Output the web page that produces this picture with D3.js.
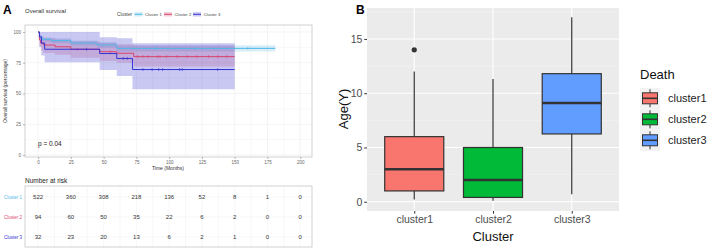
<!DOCTYPE html>
<html>
<head>
<meta charset="utf-8">
<script src="https://cdn.jsdelivr.net/npm/d3@7"></script>
<style>
  body { margin: 0; background: #fff; }
  svg { font-family: "Liberation Sans", Arial, sans-serif; }
</style>
</head>
<body>
<div id="chart"></div>
<script>
// ---- panel A data ----
var clusters = ["Cluster 1", "Cluster 2", "Cluster 3"];
var timeTicks = [0, 25, 50, 75, 100, 125, 150, 175, 200];
var survTicks = [0, 25, 50, 75, 100];

var km1Time  = [0, 1, 3, 10, 25, 45, 60, 181];
var km1Surv  = [100, 96, 94, 93, 91, 89.5, 86.7, 86.7];
var km1Upper = [100, 97.7, 95.8, 95, 93.2, 91.8, 89.3, 89.3];
var km1Lower = [100, 94.3, 92.2, 91, 88.8, 87.2, 84.1, 84.1];
var km1Cens  = [90, 120, 160];

var km2Time  = [0, 1, 2, 4, 13, 25, 47, 60, 73, 150];
var km2Surv  = [100, 93.5, 91, 89.4, 88, 86, 84, 82.7, 80, 80];
var km2Upper = [100, 98, 96.5, 95, 94, 92.5, 91, 90, 89, 89];
var km2Lower = [100, 88, 85, 83, 81.5, 79, 76.5, 75, 72, 72];
var km2Cens  = [30, 55, 76, 80, 84, 91, 93, 98, 106, 114, 121, 130, 137, 144];

var km3Time  = [0, 1, 2.5, 5, 47, 60, 72, 150];
var km3Surv  = [100, 96, 91, 86, 82.5, 78.5, 69.5, 69.5];
var km3Upper = [100, 100, 100, 100, 95.7, 94.9, 90.8, 90.8];
var km3Lower = [100, 88, 81, 75.4, 69.1, 64.2, 53.5, 53.5];
var km3Cens  = [37, 65, 68, 80, 87, 92, 95, 108, 110, 137];

var risk1 = [522, 360, 308, 218, 136, 52, 8, 1, 0];
var risk2 = [94, 60, 50, 35, 22, 6, 2, 0, 0];
var risk3 = [32, 23, 20, 13, 6, 2, 1, 0, 0];

// ---- panel B data ----
var boxCats = ["cluster1", "cluster2", "cluster3"];
var boxLow  = [0.2, 0.1, 0.7];
var boxQ1   = [1, 0.4, 6.25];
var boxMed  = [3, 2, 9.1];
var boxQ3   = [6, 5, 11.8];
var boxHigh = [12, 11.3, 17];
var outliers = [{cat: "cluster1", v: 14}];
var ageTicks = [0, 5, 10, 15];

var kmColors = ["#4FB8E6", "#D9446F", "#3232D2"];
var boxColors = ["#F8766D", "#00BA38", "#619CFF"];

var svg = d3.select("#chart").append("svg")
    .attr("width", 708).attr("height", 249);

// ================= PANEL A =================
var x = d3.scaleLinear().domain([-10, 209]).range([25, 312]);
var y = d3.scaleLinear().domain([-1.6, 105.7]).range([157, 25]);

svg.append("text").attr("x", 3).attr("y", 14)
    .attr("font-size", 12).attr("font-weight", "bold").text("A");
svg.append("text").attr("x", 25).attr("y", 13)
    .attr("font-size", 6).attr("fill", "#333").text("Overall survival");

// legend
var leg = svg.append("g").attr("font-size", 4.2).attr("fill", "#444");
leg.append("text").attr("x", 117).attr("y", 16).attr("font-size", 4.8).text("Cluster");
var legX = [134.5, 164, 193];
clusters.forEach(function (c, i) {
  leg.append("rect").attr("x", legX[i]).attr("y", 12).attr("width", 8).attr("height", 4.5)
      .attr("fill", kmColors[i]).attr("opacity", 0.25);
  leg.append("line").attr("x1", legX[i]).attr("x2", legX[i] + 8)
      .attr("y1", 14.3).attr("y2", 14.3).attr("stroke", kmColors[i]).attr("stroke-width", 1);
  leg.append("text").attr("x", legX[i] + 10.5).attr("y", 15.8).text(c);
});

// grid
var gA = svg.append("g");
var minorX = d3.range(12.5, 209, 25);
var minorY = [12.5, 37.5, 62.5, 87.5];
gA.selectAll(".gx").data(timeTicks.concat(minorX)).enter().append("line")
    .attr("x1", d => x(d)).attr("x2", d => x(d)).attr("y1", 25).attr("y2", 157)
    .attr("stroke", "#ECECEC").attr("stroke-width", d => d % 25 === 0 ? 0.6 : 0.35);
gA.selectAll(".gy").data(survTicks.concat(minorY)).enter().append("line")
    .attr("x1", 25).attr("x2", 312).attr("y1", d => y(d)).attr("y2", d => y(d))
    .attr("stroke", "#ECECEC").attr("stroke-width", d => d % 25 === 0 ? 0.6 : 0.35);

// bands + curves
var kms = [
  {t: km1Time, s: km1Surv, u: km1Upper, l: km1Lower, c: km1Cens},
  {t: km2Time, s: km2Surv, u: km2Upper, l: km2Lower, c: km2Cens},
  {t: km3Time, s: km3Surv, u: km3Upper, l: km3Lower, c: km3Cens}
];
var area = d3.area().curve(d3.curveStepAfter)
    .x(d => x(d.t)).y0(d => y(d.l)).y1(d => y(d.u));
var line = d3.line().curve(d3.curveStepAfter).x(d => x(d.t)).y(d => y(d.s));

kms.forEach(function (k, i) {
  var pts = k.t.map((t, j) => ({t: t, s: k.s[j], u: k.u[j], l: k.l[j]}));
  gA.append("path").datum(pts).attr("d", area)
      .attr("fill", kmColors[i]).attr("opacity", i === 2 ? 0.27 : 0.22);
});
kms.forEach(function (k, i) {
  var pts = k.t.map((t, j) => ({t: t, s: k.s[j]}));
  gA.append("path").datum(pts).attr("d", line)
      .attr("fill", "none").attr("stroke", kmColors[i]).attr("stroke-width", 1);
  var bis = d3.bisector(d => d).right;
  k.c.forEach(function (ct) {
    var sv = k.s[bis(k.t, ct) - 1];
    gA.append("line").attr("x1", x(ct)).attr("x2", x(ct))
        .attr("y1", y(sv) - 1.5).attr("y2", y(sv) + 1.5)
        .attr("stroke", kmColors[i]).attr("stroke-width", 0.6);
  });
});

// panel border
svg.append("rect").attr("x", 25).attr("y", 25).attr("width", 287).attr("height", 132)
    .attr("fill", "none").attr("stroke", "#BDBDBD").attr("stroke-width", 0.7);

// axes
var axY = svg.append("g").attr("transform", "translate(25,0)")
    .call(d3.axisLeft(y).tickValues(survTicks).tickSize(2).tickPadding(2));
var axX = svg.append("g").attr("transform", "translate(0,157)")
    .call(d3.axisBottom(x).tickValues(timeTicks).tickSize(2).tickPadding(2));
[axY, axX].forEach(function (a) {
  a.select(".domain").remove();
  a.selectAll("line").attr("stroke", "#777").attr("stroke-width", 0.5);
  a.selectAll("text").attr("font-size", 4.5).attr("fill", "#666");
});
svg.append("text").attr("x", 168).attr("y", 170).attr("text-anchor", "middle")
    .attr("font-size", 5).attr("fill", "#333").text("Time (Months)");
svg.append("text").attr("transform", "translate(7,91) rotate(-90)")
    .attr("text-anchor", "middle").attr("font-size", 5).attr("fill", "#333")
    .text("Overall survival (percentage)");
svg.append("text").attr("x", 38).attr("y", 146)
    .attr("font-size", 6.5).attr("fill", "#222").text("p = 0.04");

// risk table
svg.append("text").attr("x", 25).attr("y", 183)
    .attr("font-size", 6.5).attr("fill", "#222").text("Number at risk");
var ry = d3.scalePoint().domain(clusters).range([197, 237]);
var tbl = svg.append("g");
tbl.selectAll(".tg").data(timeTicks.concat(minorX)).enter().append("line")
    .attr("x1", d => x(d)).attr("x2", d => x(d)).attr("y1", 186).attr("y2", 247)
    .attr("stroke", "#EEEEEE").attr("stroke-width", 0.5);
tbl.selectAll(".th").data(clusters).enter().append("line")
    .attr("x1", 25).attr("x2", 312).attr("y1", d => ry(d)).attr("y2", d => ry(d))
    .attr("stroke", "#EEEEEE").attr("stroke-width", 0.5);
tbl.append("rect").attr("x", 25).attr("y", 186).attr("width", 287).attr("height", 61)
    .attr("fill", "none").attr("stroke", "#BDBDBD").attr("stroke-width", 0.7);
[risk1, risk2, risk3].forEach(function (row, i) {
  tbl.append("text").attr("x", 22).attr("y", ry(clusters[i]) + 1.5)
      .attr("text-anchor", "end").attr("font-size", 4.5).attr("fill", kmColors[i])
      .text(clusters[i]);
  tbl.selectAll(".r" + i).data(row).enter().append("text")
      .attr("x", (d, j) => x(timeTicks[j])).attr("y", ry(clusters[i]) + 2)
      .attr("text-anchor", "middle").attr("font-size", 6).attr("fill", "#333")
      .text(d => d);
});

// ================= PANEL B =================
var xbp = d3.scalePoint().domain(boxCats).range([367 + 0.6 * 78.75, 619 - 0.6 * 78.75]);
var yb = d3.scaleLinear().domain([-0.85, 17.85]).range([211, 8]);
var bw = 0.75 * 78.75;

svg.append("text").attr("x", 356).attr("y", 14)
    .attr("font-size", 12).attr("font-weight", "bold").text("B");

var gB = svg.append("g");
gB.append("rect").attr("x", 367).attr("y", 8).attr("width", 252).attr("height", 203)
    .attr("fill", "#EBEBEB");
gB.selectAll(".my").data([2.5, 7.5, 12.5, 17.5]).enter().append("line")
    .attr("x1", 367).attr("x2", 619).attr("y1", d => yb(d)).attr("y2", d => yb(d))
    .attr("stroke", "#F5F5F5").attr("stroke-width", 0.6);
gB.selectAll(".gy").data(ageTicks).enter().append("line")
    .attr("x1", 367).attr("x2", 619).attr("y1", d => yb(d)).attr("y2", d => yb(d))
    .attr("stroke", "#fff").attr("stroke-width", 1.1);
gB.selectAll(".gx").data(boxCats).enter().append("line")
    .attr("x1", d => xbp(d)).attr("x2", d => xbp(d)).attr("y1", 8).attr("y2", 211)
    .attr("stroke", "#fff").attr("stroke-width", 1.1);

boxCats.forEach(function (c, i) {
  var cx = xbp(c);
  gB.append("line").attr("x1", cx).attr("x2", cx)
      .attr("y1", yb(boxHigh[i])).attr("y2", yb(boxQ3[i]))
      .attr("stroke", "#333").attr("stroke-width", 1.2);
  gB.append("line").attr("x1", cx).attr("x2", cx)
      .attr("y1", yb(boxQ1[i])).attr("y2", yb(boxLow[i]))
      .attr("stroke", "#333").attr("stroke-width", 1.2);
  gB.append("rect").attr("x", cx - bw / 2).attr("y", yb(boxQ3[i]))
      .attr("width", bw).attr("height", yb(boxQ1[i]) - yb(boxQ3[i]))
      .attr("fill", boxColors[i]).attr("stroke", "#333").attr("stroke-width", 1.2);
  gB.append("line").attr("x1", cx - bw / 2).attr("x2", cx + bw / 2)
      .attr("y1", yb(boxMed[i])).attr("y2", yb(boxMed[i]))
      .attr("stroke", "#333").attr("stroke-width", 2.4);
});
gB.selectAll(".out").data(outliers).enter().append("circle")
    .attr("cx", d => xbp(d.cat)).attr("cy", d => yb(d.v)).attr("r", 2.6).attr("fill", "#333");

var axYB = svg.append("g").attr("transform", "translate(367,0)")
    .call(d3.axisLeft(yb).tickValues(ageTicks).tickSize(2.7).tickPadding(2));
var axXB = svg.append("g").attr("transform", "translate(0,211)")
    .call(d3.axisBottom(xbp).tickSize(2.7).tickPadding(2));
[axYB, axXB].forEach(function (a) {
  a.select(".domain").remove();
  a.selectAll("line").attr("stroke", "#333").attr("stroke-width", 1);
  a.selectAll("text").attr("font-size", 10.5).attr("fill", "#4D4D4D");
});
svg.append("text").attr("x", 493).attr("y", 241).attr("text-anchor", "middle")
    .attr("font-size", 13).attr("fill", "#111").text("Cluster");
svg.append("text").attr("transform", "translate(348,109) rotate(-90)")
    .attr("text-anchor", "middle").attr("font-size", 13).attr("fill", "#111").text("Age(Y)");

// legend B
var lg = svg.append("g");
lg.append("text").attr("x", 640).attr("y", 79).attr("font-size", 13).attr("fill", "#111").text("Death");
var keyY = [98.3, 119.3, 140.3];
boxCats.forEach(function (c, i) {
  var ky = keyY[i];
  lg.append("rect").attr("x", 640).attr("y", ky - 10.5).attr("width", 20).attr("height", 21)
      .attr("fill", "#F2F2F2");
  lg.append("line").attr("x1", 650).attr("x2", 650).attr("y1", ky - 9).attr("y2", ky + 9)
      .attr("stroke", "#333").attr("stroke-width", 1);
  lg.append("rect").attr("x", 642.5).attr("y", ky - 5.5).attr("width", 15).attr("height", 11)
      .attr("fill", boxColors[i]).attr("stroke", "#333").attr("stroke-width", 1);
  lg.append("line").attr("x1", 642.5).attr("x2", 657.5).attr("y1", ky).attr("y2", ky)
      .attr("stroke", "#333").attr("stroke-width", 1.6);
  lg.append("text").attr("x", 668).attr("y", ky + 4).attr("font-size", 11)
      .attr("fill", "#222").text(c);
});
</script>
</body>
</html>
